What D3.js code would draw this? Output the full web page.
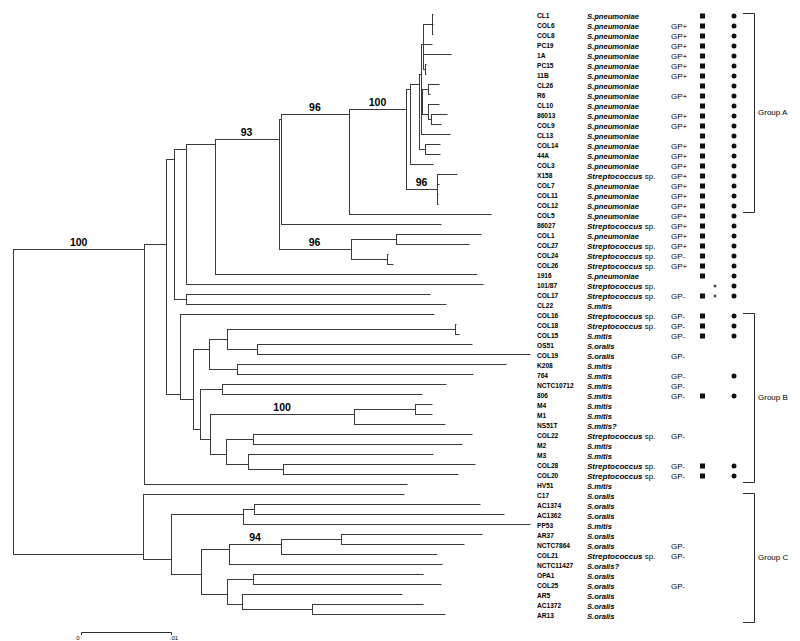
<!DOCTYPE html>
<html>
<head>
<meta charset="utf-8">
<script src="https://cdn.jsdelivr.net/npm/d3@7"></script>
<style>
  body { margin: 0; background: #fff; }
  svg { display: block; }
  text { font-family: "Liberation Sans", Arial, sans-serif; fill: #000; }
</style>
</head>
<body>
<svg id="chart" width="800" height="641"></svg>
<script>
// Tree topology in Newick form: branch lengths in substitutions/site, bootstrap values as node labels
const groupATree = "((((((CL1:0.0001,COL6:0.0001,COL8:0.0001):0.0010,PC19:0.0009,1A:0.0031,(PC15:0.0001,11B:0.0001):0.0002):0.0003," +
    "((CL26:0.0012,R6:0.0002):0.0007,(CL10:0.0012,(86013:0.0018,COL9:0.0012):0.0003):0.0007):0.0001,CL13:0.0033):0.0002," +
    "(COL14:0.0016,44A:0.0016):0.0007):0.0010,COL3:0.0026):0.0004," +
    "(X158:0.0022,COL7:0.0002,COL11:0.0001,COL12:0.0001)96:0.0034)100";

const groupBTree = "(COL16:0.0282,((((COL18:0.0001,COL15:0.0005):0.0253,(OS51:0.0239,COL19:0.0303):0.0033):0.0020," +
    "(K208:0.0299,764:0.0262):0.0031):0.0018,((NCTC10712:0.0249,806:0.0222):0.0024," +
    "(((M4:0.0019,M1:0.0018):0.0068,NS51T:0.0101)100:0.0160,((COL22:0.0243,M2:0.0232):0.0030," +
    "(M3:0.0206,(COL28:0.0213,COL20:0.0194):0.0039):0.0024):0.0018):0.0011):0.0008):0.0014)";

const groupCTree = "(C17:0.0290,(((AC1374:0.0251,AC1362:0.0277):0.0013,PP53:0.0319):0.0079," +
    "((((AR37:0.0157,NCTC7864:0.0137):0.0066,COL21:0.0173)94:0.0058,NCTC11427:0.0237):0.0031," +
    "((OPA1:0.0188,COL25:0.0208):0.0029,(AR5:0.0178,(AC1372:0.0124,AR13:0.0148):0.0078):0.0016):0.0029):0.0033):0.0032)";

const newick = "(((((((((" + groupATree + ":0.0064,COL5:0.0158)96:0.0075,86027:0.0178):0.0003," +
    "((COL1:0.0094,COL27:0.0081):0.0051,(COL24:0.0001,COL26:0.0006):0.0041)96:0.0080)93:0.0071," +
    "1916:0.0292):0.0032,101/87:0.0330):0.0013,(COL17:0.0271,CL22:0.0289):0.0013):0.0009," +
    groupBTree + ":0.0016):0.0024,HV51:0.0292)100:0.0146," + groupCTree + ":0.0144);";

const strains = ["CL1", "COL6", "COL8", "PC19", "1A", "PC15", "11B", "CL26", "R6", "CL10",
    "86013", "COL9", "CL13", "COL14", "44A", "COL3", "X158", "COL7", "COL11", "COL12",
    "COL5", "86027", "COL1", "COL27", "COL24", "COL26", "1916", "101/87", "COL17", "CL22",
    "COL16", "COL18", "COL15", "OS51", "COL19", "K208", "764", "NCTC10712", "806", "M4",
    "M1", "NS51T", "COL22", "M2", "M3", "COL28", "COL20", "HV51", "C17", "AC1374",
    "AC1362", "PP53", "AR37", "NCTC7864", "COL21", "NCTC11427", "OPA1", "COL25", "AR5", "AC1372",
    "AR13"];

const pn = "S.pneumoniae", sp = "Streptococcus sp.", mi = "S.mitis", or = "S.oralis";
const species = [pn, pn, pn, pn, pn, pn, pn, pn, pn, pn,
    pn, pn, pn, pn, pn, pn, sp, pn, pn, pn,
    pn, sp, pn, sp, sp, sp, pn, sp, sp, mi,
    sp, sp, mi, or, or, mi, mi, mi, mi, mi,
    mi, "S.mitis?", sp, mi, mi, sp, sp, mi, or, or,
    or, mi, or, or, sp, "S.oralis?", or, or, or, or,
    or];

const gpType = ["", "GP+", "GP+", "GP+", "GP+", "GP+", "GP+", "", "GP+", "",
    "GP+", "GP+", "", "GP+", "GP+", "GP+", "GP+", "GP+", "GP+", "GP+",
    "GP+", "GP+", "GP+", "GP+", "GP-", "GP+", "", "", "GP-", "",
    "GP-", "GP-", "GP-", "", "GP-", "", "GP-", "GP-", "GP-", "",
    "", "", "GP-", "", "", "GP-", "GP-", "", "", "",
    "", "", "", "GP-", "GP-", "", "", "GP-", "", "",
    ""];

const hasSquare = [1, 1, 1, 1, 1, 1, 1, 1, 1, 1, 1, 1, 1, 1, 1, 1, 1, 1, 1, 1,
    1, 1, 1, 1, 1, 1, 1, 0, 1, 0, 1, 1, 1, 0, 0, 0, 0, 0, 1, 0,
    0, 0, 0, 0, 0, 1, 1, 0, 0, 0, 0, 0, 0, 0, 0, 0, 0, 0, 0, 0, 0];
const hasCircle = [1, 1, 1, 1, 1, 1, 1, 1, 1, 1, 1, 1, 1, 1, 1, 1, 1, 1, 1, 1,
    1, 1, 1, 1, 1, 1, 1, 1, 1, 0, 1, 1, 1, 0, 0, 0, 1, 0, 1, 0,
    0, 0, 0, 0, 0, 1, 1, 0, 0, 0, 0, 0, 0, 0, 0, 0, 0, 0, 0, 0, 0];
const hasCross = ["101/87", "COL17"];

const groupLabels = ["Group A", "Group B", "Group C"];
const groupFirst = ["CL1", "COL16", "C17"];
const groupLast = ["COL12", "COL20", "AR13"];

const scaleBarValue = 0.01;
const scaleBarTicks = ["0", ".01"];

// --- tiny Newick reader ---
const parseNewick = (s) => {
    let i = 0;
    const readNode = () => {
        const node = { children: [] };
        if (s[i] === "(") {
            i++;
            node.children.push(readNode());
            while (s[i] === ",") { i++; node.children.push(readNode()); }
            i++;
        }
        let name = "";
        while (i < s.length && !",():;".includes(s[i])) name += s[i++];
        node.name = name.trim();
        if (s[i] === ":") {
            i++;
            let len = "";
            while (i < s.length && !",();".includes(s[i])) len += s[i++];
            node.length = +len;
        }
        if (!node.children.length) delete node.children;
        return node;
    };
    return readNode();
};

const svg = d3.select("#chart");
const root = d3.hierarchy(parseNewick(newick));

const xScale = d3.scaleLinear().domain([0, scaleBarValue]).range([13, 103]);
const yScale = d3.scaleLinear().domain([0, strains.length - 1]).range([14, 614]);
const px = v => Math.round(v) + 0.5;

// distance from root, leaf rows, node y as the mean of its leaves
root.eachBefore(d => { d.dist = d.parent ? d.parent.dist + (d.data.length || 0) : 0; });
root.leaves().forEach(l => { l.row = strains.indexOf(l.data.name); l.py = yScale(l.row); });
root.eachAfter(d => { if (d.children) d.py = d3.mean(d.leaves(), l => l.py); });

const tree = svg.append("g")
    .attr("fill", "none")
    .attr("stroke", "#3a3a3a")
    .attr("stroke-width", 1);

// horizontal branches
tree.selectAll("path.branch")
    .data(root.descendants().filter(d => d.parent))
    .join("path")
    .attr("class", "branch")
    .attr("d", d => `M${px(xScale(d.parent.dist)) - 0.5},${px(d.py)}H${px(xScale(d.dist))}`);

// vertical connectors
tree.selectAll("path.join")
    .data(root.descendants().filter(d => d.children))
    .join("path")
    .attr("class", "join")
    .attr("d", d => `M${px(xScale(d.dist))},${px(d.children[0].py)}V${px(d.children[d.children.length - 1].py)}`);

// bootstrap values
svg.append("g")
    .selectAll("text")
    .data(root.descendants().filter(d => d.parent && d.children && d.data.name))
    .join("text")
    .attr("x", d => (xScale(d.parent.dist) + xScale(d.dist)) / 2)
    .attr("y", d => d.py - 3)
    .attr("text-anchor", "middle")
    .attr("font-size", 10.5)
    .attr("font-weight", "bold")
    .text(d => d.data.name);

// leaf table
const rowY = i => yScale(i) + 2;
const rows = svg.append("g")
    .selectAll("g")
    .data(strains)
    .join("g")
    .attr("transform", (d, i) => `translate(0,${rowY(i)})`);

rows.append("text")
    .attr("x", 537)
    .attr("dy", "0.35em")
    .attr("font-size", 6.6)
    .attr("font-weight", "bold")
    .text(d => d);

rows.append("text")
    .attr("x", 587)
    .attr("dy", "0.35em")
    .attr("font-size", 8)
    .each(function (d, i) {
        const t = d3.select(this);
        const s = species[i];
        if (s.endsWith(" sp.")) {
            t.append("tspan").attr("font-style", "italic").attr("font-weight", "bold").text(s.replace(" sp.", ""));
            t.append("tspan").text(" sp.");
        } else {
            t.append("tspan").attr("font-style", "italic").attr("font-weight", "bold").attr("font-size", 7.6).text(s);
        }
    });

rows.append("text")
    .attr("x", 671)
    .attr("dy", "0.35em")
    .attr("font-size", 8)
    .text((d, i) => gpType[i]);

rows.filter((d, i) => hasSquare[i])
    .append("rect")
    .attr("x", 700).attr("y", -2.5)
    .attr("width", 5).attr("height", 5)
    .attr("fill", "#111");

rows.filter((d, i) => hasCircle[i])
    .append("circle")
    .attr("cx", 734).attr("cy", 0).attr("r", 2.5)
    .attr("fill", "#111");

rows.filter(d => hasCross.includes(d))
    .append("path")
    .attr("transform", "translate(715,0)")
    .attr("d", d3.symbol(d3.symbolCross, 5))
    .attr("fill", "#111");

// group brackets
const brackets = svg.append("g")
    .selectAll("g")
    .data(groupLabels)
    .join("g");

brackets.append("path")
    .attr("fill", "none")
    .attr("stroke", "#2b2b2b")
    .attr("d", (d, i) => {
        const top = rowY(strains.indexOf(groupFirst[i])) - 3;
        const bottom = rowY(strains.indexOf(groupLast[i])) + 6;
        return `M743,${px(top)}H${px(754)}V${px(bottom)}H743`;
    });

brackets.append("text")
    .attr("x", 758)
    .attr("y", (d, i) => (rowY(strains.indexOf(groupFirst[i])) - 3 + rowY(strains.indexOf(groupLast[i])) + 6) / 2)
    .attr("dy", "0.35em")
    .attr("font-size", 8)
    .text(d => d);

// scale bar
const barX0 = 81, barY = 632;
const barLen = xScale(scaleBarValue) - xScale(0);
svg.append("path")
    .attr("fill", "none")
    .attr("stroke", "#2b2b2b")
    .attr("d", `M${px(barX0)},${barY + 3}V${px(barY)}H${px(barX0 + barLen)}V${barY + 3}`);

svg.append("g")
    .selectAll("text")
    .data(scaleBarTicks)
    .join("text")
    .attr("x", (d, i) => barX0 - 3 + i * (barLen + 6))
    .attr("y", barY + 8)
    .attr("text-anchor", "middle")
    .attr("font-family", "Liberation Mono, monospace")
    .attr("font-size", 6)
    .text(d => d);
</script>
</body>
</html>
